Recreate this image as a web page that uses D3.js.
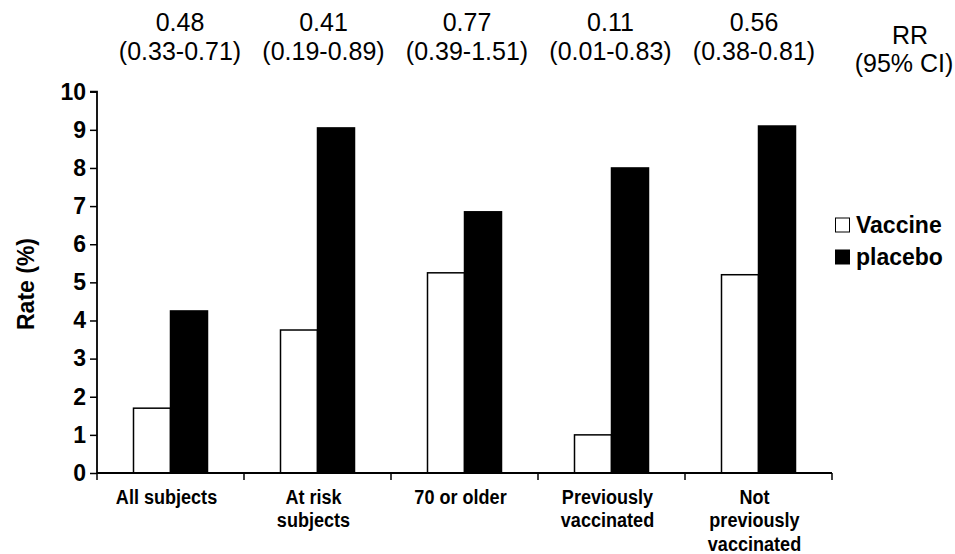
<!DOCTYPE html>
<html>
<head>
<meta charset="utf-8">
<script src="https://cdn.jsdelivr.net/npm/d3@7"></script>
<style>
  html, body { margin: 0; padding: 0; background: #fff; }
  svg { display: block; }
</style>
</head>
<body>
<svg id="chart" width="955" height="554"></svg>
<script>
const categories = [
  ["All subjects"],
  ["At risk", "subjects"],
  ["70 or older"],
  ["Previously", "vaccinated"],
  ["Not", "previously", "vaccinated"]
];
const seriesNames = ["Vaccine", "placebo"];
const vaccine = [1.7, 3.75, 5.25, 1.0, 5.2];
const placebo = [4.25, 9.05, 6.85, 8.0, 9.1];
const rr = ["0.48", "0.41", "0.77", "0.11", "0.56"];
const ci = ["(0.33-0.71)", "(0.19-0.89)", "(0.39-1.51)", "(0.01-0.83)", "(0.38-0.81)"];
const rrHeader = ["RR", "(95% CI)"];
const yTicks = [0, 1, 2, 3, 4, 5, 6, 7, 8, 9, 10];

(function () {
const svg = d3.select("#chart");
const mLeft = 97, mRight = 832, mTop = 91.7, mBottom = 473;

const x = d3.scaleBand().domain(d3.range(categories.length)).range([mLeft, mRight]).paddingInner(0).paddingOuter(0);
const y = d3.scaleLinear().domain([0, 10]).range([mBottom, mTop]);
const xAnn = d3.scalePoint().domain(d3.range(rr.length)).range([180, 754]);
const barW = 37;

const fillColors = ["#ffffff", "#000000"];
const series = [vaccine, placebo];

// bars
series.forEach((vals, si) => {
  svg.append("g").selectAll("rect").data(vals).join("rect")
    .attr("x", (d, i) => x(i) + x.bandwidth() / 2 - barW + si * barW)
    .attr("y", d => y(d))
    .attr("width", barW)
    .attr("height", d => y(0) - y(d))
    .attr("fill", fillColors[si])
    .attr("stroke", "#000")
    .attr("stroke-width", 1.5);
});

// y axis
const yAxis = d3.axisLeft(y).tickValues(yTicks).tickSize(7).tickPadding(4).tickFormat(d3.format("d"));
const gy = svg.append("g").attr("transform", `translate(${mLeft},0)`).call(yAxis);
gy.select(".domain").attr("stroke-width", 1.8).attr("d", `M-7,${mTop}H0V${mBottom}`);
gy.selectAll(".tick line").attr("stroke-width", 1.5);
gy.selectAll("text")
  .attr("font-family", "Liberation Sans, Arial, sans-serif")
  .attr("font-weight", "bold")
  .attr("font-size", 23)
  .attr("fill", "#000");

// x axis line and ticks at band boundaries
const boundaries = d3.range(categories.length + 1).map(i => i < categories.length ? x(i) : mRight);
svg.append("line").attr("x1", mLeft).attr("x2", mRight).attr("y1", mBottom).attr("y2", mBottom)
  .attr("stroke", "#000").attr("stroke-width", 1.8);
svg.append("g").selectAll("line").data(boundaries).join("line")
  .attr("x1", d => d).attr("x2", d => d)
  .attr("y1", mBottom).attr("y2", mBottom + 7)
  .attr("stroke", "#000").attr("stroke-width", 1.5);

// category labels (condensed bold)
const catG = svg.append("g")
  .attr("font-family", "Liberation Sans, Arial, sans-serif")
  .attr("font-weight", "bold")
  .attr("font-size", 21)
  .attr("text-anchor", "middle")
  .attr("fill", "#000");
categories.forEach((lines, i) => {
  const cx = x(i) + x.bandwidth() / 2 - 4;
  const t = catG.append("text").attr("transform", `translate(${cx},504) scale(0.86,1)`);
  lines.forEach((ln, j) => {
    t.append("tspan").attr("x", 0).attr("y", j * 23.5).text(ln);
  });
});

// y axis title
svg.append("text")
  .attr("transform", `translate(34,284) rotate(-90)`)
  .attr("text-anchor", "middle")
  .attr("font-family", "Liberation Sans, Arial, sans-serif")
  .attr("font-weight", "bold")
  .attr("font-size", 23)
  .text("Rate (%)");

// RR labels at top
const topG = svg.append("g")
  .attr("font-family", "Liberation Sans, Arial, sans-serif")
  .attr("font-size", 25)
  .attr("text-anchor", "middle")
  .attr("fill", "#000");
rr.forEach((r, i) => {
  topG.append("text").attr("x", xAnn(i)).attr("y", 31).text(r);
  topG.append("text").attr("x", xAnn(i)).attr("y", 60).text(ci[i]);
});
topG.append("text").attr("x", 910).attr("y", 44).text(rrHeader[0]);
topG.append("text").attr("x", 904).attr("y", 72).text(rrHeader[1]);

// legend
const legG = svg.append("g")
  .attr("font-family", "Liberation Sans, Arial, sans-serif")
  .attr("font-weight", "bold")
  .attr("font-size", 23)
  .attr("fill", "#000");
seriesNames.forEach((name, i) => {
  const ly = 218 + i * 32;
  legG.append("rect").attr("x", 835.5).attr("y", ly).attr("width", 14).attr("height", 14)
    .attr("fill", fillColors[i]).attr("stroke", "#000").attr("stroke-width", 1);
  legG.append("text").attr("x", 856).attr("y", ly + 15).text(name);
});
})();
</script>
</body>
</html>
